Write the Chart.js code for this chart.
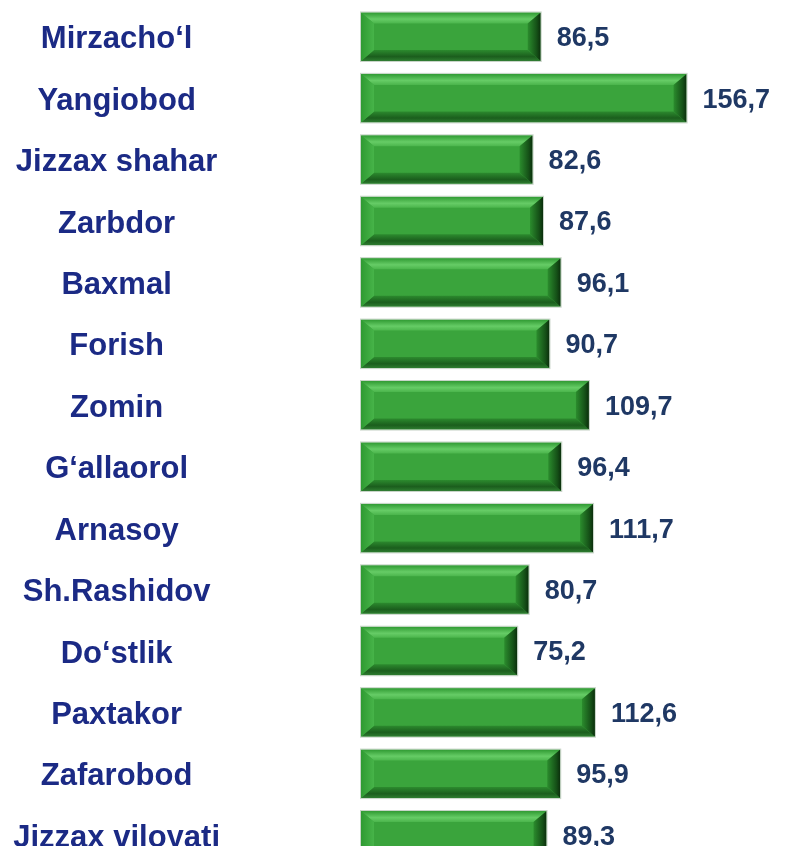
<!DOCTYPE html>
<html>
<head>
<meta charset="utf-8">
<script src="https://cdn.jsdelivr.net/npm/chart.js@4.4.0/dist/chart.umd.min.js"></script>
<style>
  html, body { margin: 0; padding: 0; background: #fff; overflow: hidden; }
  #wrap { width: 789px; height: 846px; overflow: hidden; }
</style>
</head>
<body>
<div id="wrap"><canvas id="bar-chart" width="789" height="866"></canvas></div>
<script>
// Districts and values
const districts = [
    'Mirzacho‘l', 'Yangiobod', 'Jizzax shahar', 'Zarbdor', 'Baxmal', 'Forish', 'Zomin',
    'G‘allaorol', 'Arnasoy', 'Sh.Rashidov', 'Do‘stlik', 'Paxtakor', 'Zafarobod', 'Jizzax viloyati'
];
const values = [86.5, 156.7, 82.6, 87.6, 96.1, 90.7, 109.7, 96.4, 111.7, 80.7, 75.2, 112.6, 95.9, 89.3];

const FONT = 'Arial, "Liberation Sans", Helvetica, sans-serif';

// measure widest label so the tick labels are centred around x = 117
const mctx = document.createElement('canvas').getContext('2d');
mctx.font = 'bold 31px ' + FONT;
const widest = Math.max(...districts.map(d => mctx.measureText(d).width));
const labelPadding = Math.round(361 - 117 - widest / 2);

// Draws bevelled green bars and the value labels
const bevelBars = {
    id: 'bevelBars',
    afterDatasetsDraw(chart) {
        const ctx = chart.ctx;
        const meta = chart.getDatasetMeta(0);
        meta.data.forEach((bar, i) => {
            const x0 = bar.base, x1 = bar.x;
            const y0 = bar.y - bar.height / 2, y1 = bar.y + bar.height / 2;
            const bx = 13, by = 11;
            ctx.save();
            // face
            ctx.fillStyle = '#3aa43c';
            ctx.fillRect(x0, y0, x1 - x0, y1 - y0);
            // top bevel
            let g = ctx.createLinearGradient(0, y0, 0, y0 + by);
            g.addColorStop(0, '#2f9a32');
            g.addColorStop(0.6, '#66cc66');
            g.addColorStop(1, '#4bb54c');
            ctx.fillStyle = g;
            ctx.beginPath();
            ctx.moveTo(x0, y0); ctx.lineTo(x1, y0); ctx.lineTo(x1 - bx, y0 + by); ctx.lineTo(x0 + bx, y0 + by);
            ctx.closePath(); ctx.fill();
            // bottom bevel
            g = ctx.createLinearGradient(0, y1 - by, 0, y1);
            g.addColorStop(0, '#2c8a2e');
            g.addColorStop(0.6, '#1b5e1d');
            g.addColorStop(1, '#2e7d30');
            ctx.fillStyle = g;
            ctx.beginPath();
            ctx.moveTo(x0, y1); ctx.lineTo(x1, y1); ctx.lineTo(x1 - bx, y1 - by); ctx.lineTo(x0 + bx, y1 - by);
            ctx.closePath(); ctx.fill();
            // left bevel
            g = ctx.createLinearGradient(x0, 0, x0 + bx, 0);
            g.addColorStop(0, '#2f9a32');
            g.addColorStop(1, '#47b449');
            ctx.fillStyle = g;
            ctx.beginPath();
            ctx.moveTo(x0, y0); ctx.lineTo(x0 + bx, y0 + by); ctx.lineTo(x0 + bx, y1 - by); ctx.lineTo(x0, y1);
            ctx.closePath(); ctx.fill();
            // right bevel
            g = ctx.createLinearGradient(x1 - bx, 0, x1, 0);
            g.addColorStop(0, '#2b8c2d');
            g.addColorStop(0.7, '#155017');
            g.addColorStop(1, '#0b2e0c');
            ctx.fillStyle = g;
            ctx.beginPath();
            ctx.moveTo(x1, y0); ctx.lineTo(x1 - bx, y0 + by); ctx.lineTo(x1 - bx, y1 - by); ctx.lineTo(x1, y1);
            ctx.closePath(); ctx.fill();
            // outline
            ctx.strokeStyle = '#c8d4c8';
            ctx.lineWidth = 1;
            ctx.strokeRect(x0 - 0.5, y0 - 0.5, x1 - x0 + 1, y1 - y0 + 1);
            // value label
            ctx.fillStyle = '#1f3864';
            ctx.font = 'bold 27px ' + FONT;
            ctx.textAlign = 'left';
            ctx.textBaseline = 'middle';
            ctx.fillText(values[i].toFixed(1).replace('.', ','), x1 + 16, bar.y + 2);
            ctx.restore();
        });
    }
};

new Chart(document.getElementById('bar-chart').getContext('2d'), {
    type: 'bar',
    data: {
        labels: districts,
        datasets: [{
            data: values,
            backgroundColor: 'rgba(0,0,0,0)',
            barPercentage: 0.79,
            categoryPercentage: 1
        }]
    },
    options: {
        indexAxis: 'y',
        responsive: false,
        animation: false,
        layout: { padding: { top: 6, left: 12, right: 0, bottom: 0 } },
        plugins: {
            legend: { display: false },
            tooltip: { enabled: false }
        },
        scales: {
            x: {
                display: false,
                min: 0,
                max: 206
            },
            y: {
                border: { display: false },
                grid: { display: false, drawTicks: false },
                ticks: {
                    crossAlign: 'center',
                    padding: labelPadding,
                    labelOffset: 3,
                    color: '#1b2a85',
                    font: { family: FONT, size: 31, weight: 'bold' }
                },
                afterFit(scale) {
                    // keep the label padding from eating vertical space
                    scale.paddingTop = 0;
                    scale.paddingBottom = 0;
                    scale.width = 349;
                }
            }
        }
    },
    plugins: [bevelBars]
});
</script>
</body>
</html>
